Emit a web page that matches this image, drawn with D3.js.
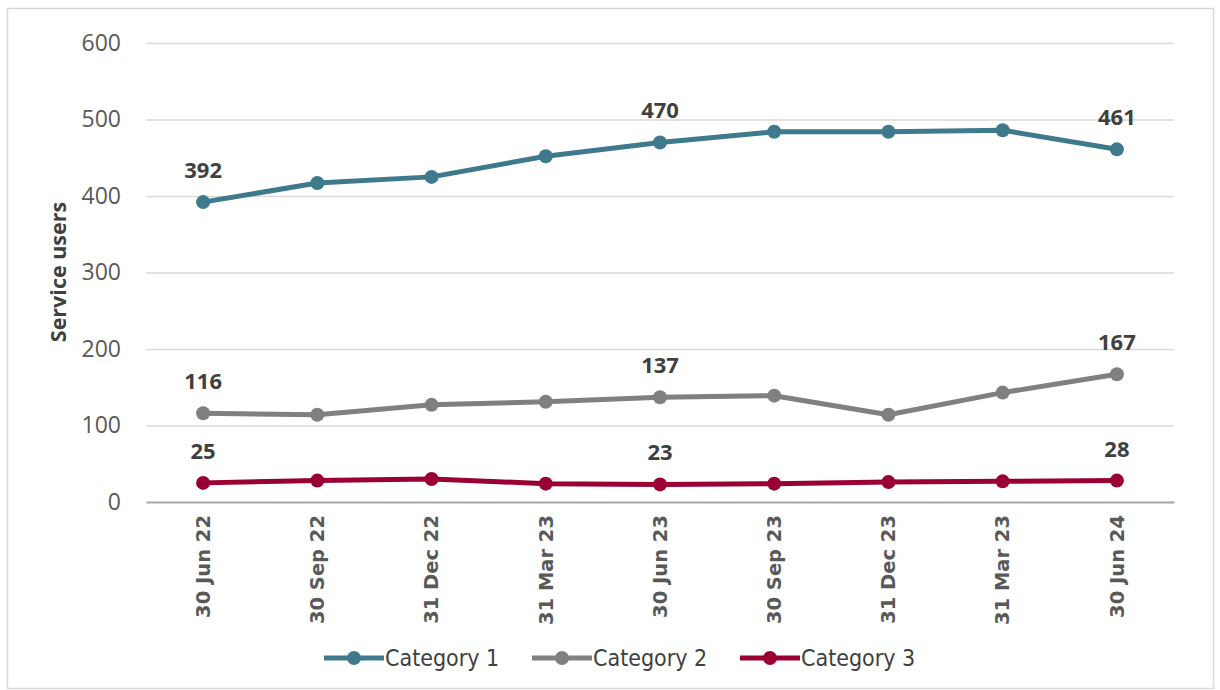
<!DOCTYPE html>
<html>
<head>
<meta charset="utf-8">
<script src="https://cdn.jsdelivr.net/npm/d3@7"></script>
<style>
  body { margin: 0; background: #fff; }
  svg { display: block; }
</style>
</head>
<body>
<script>
var quarters = ["30 Jun 22", "30 Sep 22", "31 Dec 22", "31 Mar 23", "30 Jun 23", "30 Sep 23", "31 Dec 23", "31 Mar 23", "30 Jun 24"];
var seriesNames = ["Category 1", "Category 2", "Category 3"];
var category1 = [392, 417, 425, 452, 470, 484, 484, 486, 461];
var category2 = [116, 114, 127, 131, 137, 139, 114, 143, 167];
var category3 = [25, 28, 30, 24, 23, 24, 26, 27, 28];
var yTicks = [0, 100, 200, 300, 400, 500, 600];
var labelled = [0, 4, 8];   // points that carry a value label

var W = 1220, H = 690,
    m = {left: 146, right: 46};

var colours = ["#3f7a8c", "#808080", "#9b0034"];
var series = [category1, category2, category3].map(function(v, i) {
    return {name: seriesNames[i], values: v, colour: colours[i]};
});

var svg = d3.select("body").append("svg").attr("width", W).attr("height", H);

svg.append("rect")
    .attr("x", 7.5).attr("y", 8.5).attr("width", 1206).attr("height", 680)
    .attr("fill", "#fff").attr("stroke", "#d9d9d9").attr("stroke-width", 1.5);

var x = d3.scaleBand().domain(d3.range(quarters.length)).range([m.left, W - m.right]);
var y = d3.scaleLinear().domain([0, 600]).range([502, 43]);

var g = svg.append("g");

// gridlines
g.append("g")
    .selectAll("line")
    .data(yTicks.slice(1))
    .enter().append("line")
    .attr("x1", m.left).attr("x2", W - m.right)
    .attr("y1", function(d) { return y(d) + 0.5; })
    .attr("y2", function(d) { return y(d) + 0.5; })
    .attr("stroke", "#d9d9d9").attr("stroke-width", 1.5);

// y axis
var yAxis = g.append("g")
    .attr("transform", "translate(" + (m.left - 25) + ",0)")
    .call(d3.axisLeft(y).tickValues(yTicks).tickSize(0).tickPadding(0));
yAxis.select(".domain").remove();
yAxis.selectAll("text")
    .attr("font-family", "'Open Sans', sans-serif")
    .attr("font-size", 23)
    .attr("fill", "#595959");

// x axis
var xAxis = g.append("g")
    .attr("transform", "translate(0," + y(0) + ")")
    .call(d3.axisBottom(x).tickFormat(function(i) { return quarters[i]; }).tickSize(0));
xAxis.select(".domain").attr("stroke", "#a6a6a6").attr("stroke-width", 2);
xAxis.selectAll("text")
    .attr("font-family", "'DejaVu Sans', sans-serif")
    .attr("font-weight", "bold")
    .attr("font-size", 19.5)
    .attr("fill", "#595959")
    .attr("text-anchor", "end")
    .attr("transform", "rotate(-90)")
    .attr("x", -13)
    .attr("y", 0)
    .attr("dy", "0.35em");

// y title
svg.append("text")
    .attr("transform", "translate(66,272) rotate(-90)")
    .attr("text-anchor", "middle")
    .attr("font-family", "'Open Sans', sans-serif")
    .attr("font-weight", "bold")
    .attr("font-size", 21.5)
    .attr("fill", "#404040")
    .text("Service users");

var cx = function(d, i) { return x(i) + x.bandwidth() / 2; };
var line = d3.line().x(cx).y(function(d) { return y(d); });

var sg = g.selectAll(".series").data(series).enter().append("g").attr("class", "series");

sg.append("path")
    .attr("d", function(s) { return line(s.values); })
    .attr("fill", "none")
    .attr("stroke", function(s) { return s.colour; })
    .attr("stroke-width", 5)
    .attr("stroke-linejoin", "round");

sg.each(function(s) {
    d3.select(this).selectAll("circle")
        .data(s.values)
        .enter().append("circle")
        .attr("cx", cx)
        .attr("cy", function(d) { return y(d); })
        .attr("r", 7)
        .attr("fill", s.colour);

    d3.select(this).selectAll("text.lbl")
        .data(labelled)
        .enter().append("text")
        .attr("class", "lbl")
        .attr("x", function(i) { return cx(null, i); })
        .attr("y", function(i) { return y(s.values[i]) - 24; })
        .attr("text-anchor", "middle")
        .attr("font-family", "'Open Sans', sans-serif")
        .attr("font-weight", "bold")
        .attr("font-size", 22)
        .attr("fill", "#404040")
        .text(function(i) { return s.values[i]; });
});

// legend
var legX = [324, 532, 740];
var leg = svg.selectAll(".leg").data(series).enter().append("g")
    .attr("class", "leg")
    .attr("transform", function(s, i) { return "translate(" + legX[i] + ",658)"; });
leg.append("line")
    .attr("x1", 0).attr("x2", 60)
    .attr("stroke", function(s) { return s.colour; })
    .attr("stroke-width", 5);
leg.append("circle")
    .attr("cx", 30).attr("r", 7)
    .attr("fill", function(s) { return s.colour; });
leg.append("text")
    .attr("x", 61).attr("dy", "0.35em")
    .attr("font-family", "'Liberation Sans Narrow', 'DejaVu Sans Condensed', sans-serif")
    .attr("font-size", 23)
    .attr("fill", "#404040")
    .text(function(s) { return s.name; });
</script>
</body>
</html>
